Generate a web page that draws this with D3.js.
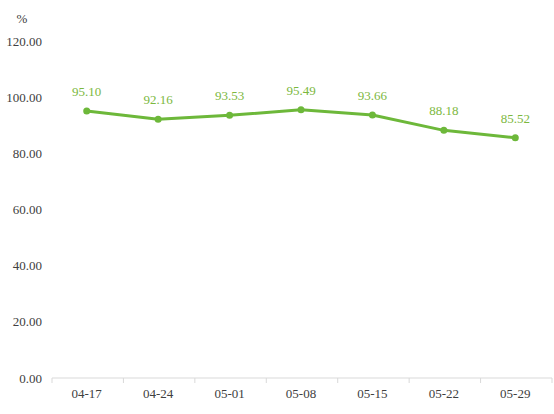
<!DOCTYPE html>
<html>
<head>
<meta charset="utf-8">
<script src="https://cdn.jsdelivr.net/npm/d3@7"></script>
<style>
  body { margin: 0; background: #fff; }
</style>
</head>
<body>
<svg id="chart" width="554" height="414"></svg>
<script>
var dates = ["04-17", "04-24", "05-01", "05-08", "05-15", "05-22", "05-29"];
var values = [95.10, 92.16, 93.53, 95.49, 93.66, 88.18, 85.52];
var yTicks = [0, 20, 40, 60, 80, 100, 120];

var FONT = "Liberation Serif";

var svg = d3.select("#chart"),
  margin = { top: 41, right: 2, bottom: 36, left: 52 },
  width = +svg.attr("width") - margin.left - margin.right,
  height = +svg.attr("height") - margin.top - margin.bottom;

var g = svg.append("g")
  .attr("transform", "translate(" + margin.left + "," + margin.top + ")");

var x = d3.scaleBand().domain(dates).range([0, width]);
var y = d3.scaleLinear().domain([0, 120]).range([height, 0]);

// y labels only, the chart has no y axis line
g.append("g")
  .selectAll("text")
  .data(yTicks)
  .enter().append("text")
  .attr("x", -10)
  .attr("y", function(d) { return y(d); })
  .attr("dy", "0.35em")
  .attr("text-anchor", "end")
  .style("font-family", FONT)
  .style("font-size", "13px")
  .attr("fill", "#404040")
  .text(function(d) { return d3.format(".2f")(d); });

svg.append("text")
  .attr("x", 22)
  .attr("y", 23)
  .attr("text-anchor", "middle")
  .style("font-family", FONT)
  .style("font-size", "13px")
  .attr("fill", "#404040")
  .text("%");

// x axis
var xAxis = g.append("g")
  .attr("transform", "translate(0," + height + ")");

xAxis.append("line")
  .attr("x1", 0).attr("x2", width)
  .attr("stroke", "#d9d9d9").attr("stroke-width", 1);

xAxis.selectAll(".tick")
  .data(d3.range(dates.length + 1))
  .enter().append("line")
  .attr("x1", function(i) { return i * x.bandwidth(); })
  .attr("x2", function(i) { return i * x.bandwidth(); })
  .attr("y1", 0).attr("y2", 5)
  .attr("stroke", "#d9d9d9");

xAxis.selectAll("text")
  .data(dates)
  .enter().append("text")
  .attr("x", function(d) { return x(d) + x.bandwidth() / 2 - 1; })
  .attr("y", 20)
  .attr("text-anchor", "middle")
  .style("font-family", FONT)
  .style("font-size", "13px")
  .attr("fill", "#404040")
  .text(function(d) { return d; });

var cx = function(d, i) { return x(dates[i]) + x.bandwidth() / 2 - 1; };

var line = d3.line()
  .x(function(d, i) { return cx(d, i); })
  .y(function(d) { return y(d); });

g.append("path")
  .datum(values)
  .attr("fill", "none")
  .attr("stroke", "#6db83a")
  .attr("stroke-width", 3)
  .attr("stroke-linejoin", "round")
  .attr("d", line);

g.selectAll(".dot")
  .data(values)
  .enter().append("circle")
  .attr("cx", cx)
  .attr("cy", function(d) { return y(d); })
  .attr("r", 3.5)
  .attr("fill", "#6db83a");

g.selectAll(".label")
  .data(values)
  .enter().append("text")
  .attr("x", cx)
  .attr("y", function(d) { return y(d) - 15; })
  .attr("text-anchor", "middle")
  .style("font-family", FONT)
  .style("font-size", "13px")
  .attr("fill", "#7cb83e")
  .text(function(d) { return d3.format(".2f")(d); });
</script>
</body>
</html>
